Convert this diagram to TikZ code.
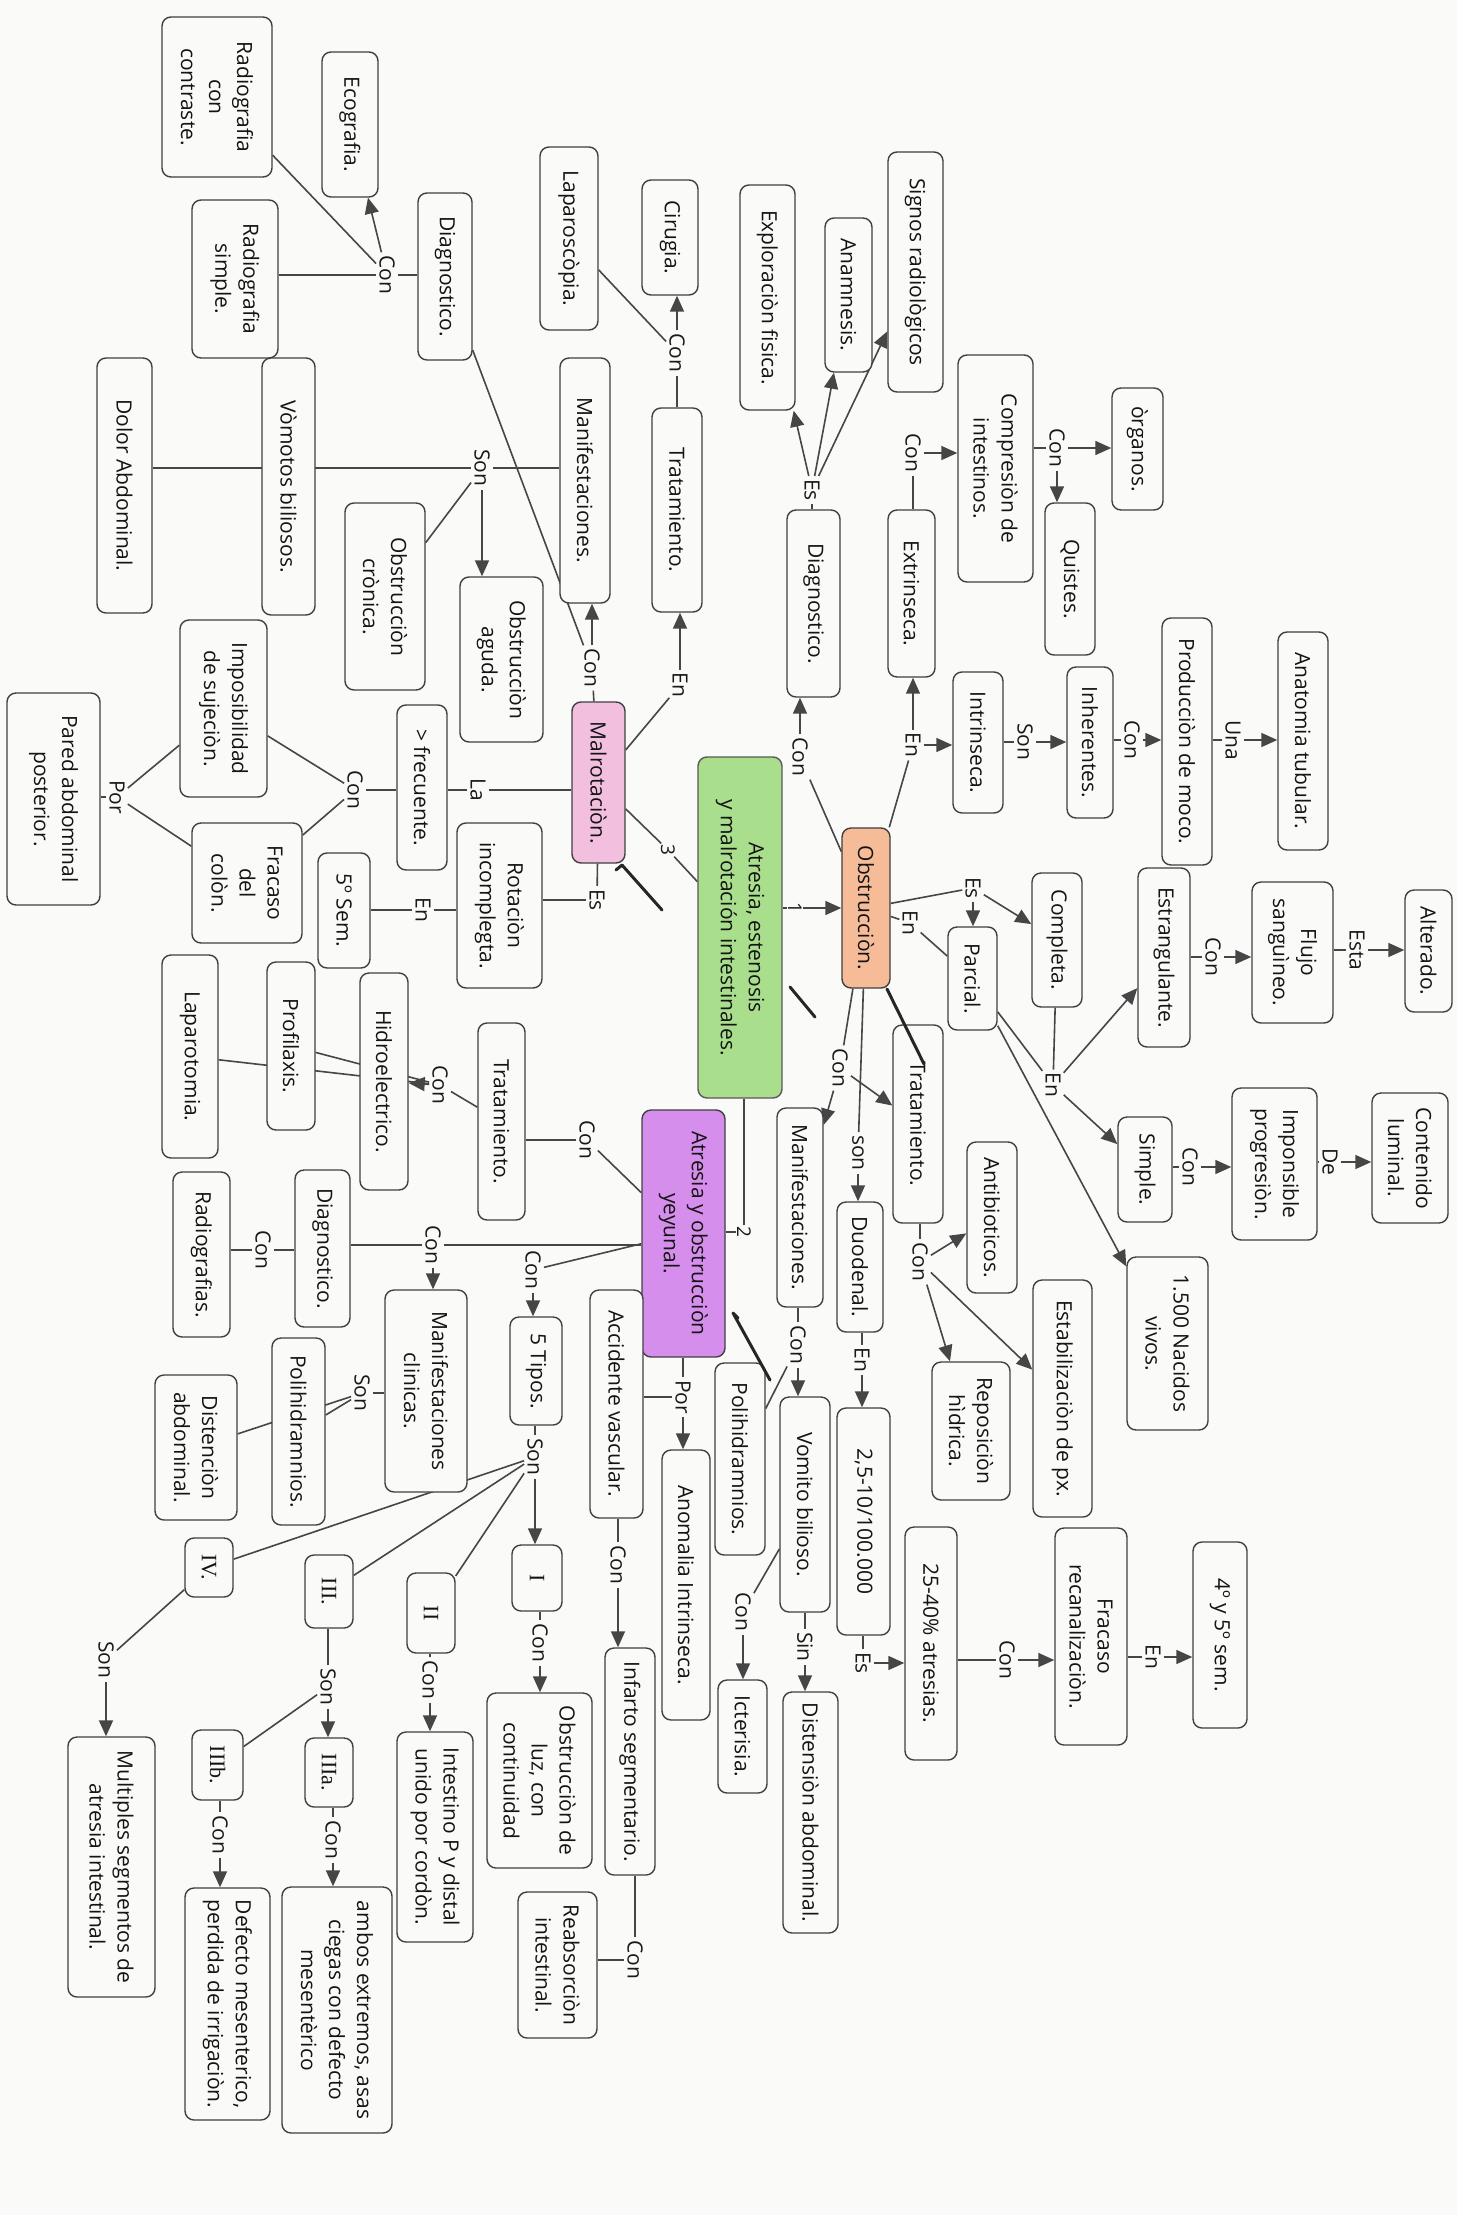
\documentclass[tikz,border=0pt]{standalone}
\usepackage{fontspec}
\setmainfont{Open Sans}
\newfontfamily\romanf{Liberation Serif}
\usetikzlibrary{arrows.meta}
\pgfdeclarelayer{back}
\pgfdeclarelayer{edges}
\pgfsetlayers{back,edges,main}
\definecolor{paper}{RGB}{250,250,249}
\definecolor{ink}{RGB}{70,70,70}
\definecolor{gfill}{RGB}{168,222,140}
\definecolor{pfill}{RGB}{242,192,222}
\definecolor{ofill}{RGB}{246,188,152}
\definecolor{vfill}{RGB}{214,142,236}
\tikzset{
  box/.style={draw=black!75, line width=1.4pt, rounded corners=9pt, rotate=-90, align=center, fill=paper, inner sep=2pt, font=\fontsize{21}{28}\selectfont, text=black!92},
  bx/.style 2 args={box, minimum width=#1pt, minimum height=#2pt},
  rom/.style={font=\romanf\fontsize{22}{28}\selectfont},
  lb/.style={rotate=-90, inner sep=3pt, font=\fontsize{21}{24}\selectfont, text=black!90},
  num/.style={rotate=-90, inner sep=1pt, fill=paper, font=\fontsize{19}{22}\selectfont, text=black!90},
  ln/.style={draw=ink, line width=1.6pt},
  ar/.style={ln, -{Triangle[length=16pt,width=14pt]}},
  pen/.style={draw=black!85, line width=3pt, line cap=round, line join=round},
}
\begin{document}
\begin{tikzpicture}[x=1pt,y=-1pt]
\begin{pgfonlayer}{back}
\fill[paper] (0,0) rectangle (1457,2215);
\end{pgfonlayer}
\useasboundingbox (0,0) rectangle (1457,2215);

% ---------- concept nodes ----------
\node[bx={160}{110}] (radcon) at (217,97) {Radiografia\\con\\contraste.};
\node[bx={145}{56}] (eco) at (350,124.5) {Ecografia.};
\node[bx={158}{86}] (radsim) at (235,279) {Radiografia\\simple.};
\node[bx={167}{54}] (diag1) at (445,276.5) {Diagnostico.};
\node[bx={255}{55}] (dolor) at (124.5,485.5) {Dolor Abdominal.};
\node[bx={257}{53}] (vomot) at (288.5,486.5) {Vòmotos biliosos.};
\node[bx={187}{80}] (cronica) at (385,596.5) {Obstrucciòn\\crònica.};
\node[bx={165}{83}] (aguda) at (501.5,659.5) {Obstrucciòn\\aguda.};
\node[bx={245}{50}] (manif1) at (585,480.5) {Manifestaciones.};
\node[bx={204}{50}] (trat1) at (677,510) {Tratamiento.};
\node[bx={115}{56}] (cirugia) at (670,237.5) {Cirugia.};
\node[bx={183}{58}] (laparos) at (569,238.5) {Laparoscòpia.};
\node[bx={161}{53}, fill=pfill] (malrot) at (598.5,782.5) {Malrotaciòn.};
\node[bx={165}{50}] (frec) at (422,787.5) {> frecuente.};
\node[bx={177}{87}] (impos) at (223.5,708.5) {Imposibilidad\\de sujeciòn.};
\node[bx={120}{110}] (fracaso) at (247,883) {Fracaso\\del\\colòn.};
\node[bx={212}{93}] (pared) at (53.5,799) {Pared abdominal\\posterior.};
\node[bx={165}{85}] (rotinc) at (499.5,905.5) {Rotaciòn\\incomplegta.};
\node[bx={115}{52}] (sem5) at (344,910.5) {5º Sem.};
\node[bx={341}{84}, fill=gfill, draw=black!65] (title) at (740,927.5) {Atresia, estenosis\\y malrotación intestinales.};
\node[bx={160}{48}, fill=ofill] (obst) at (866,908) {Obstrucciòn.};
\node[bx={187}{53}] (diag2) at (813.5,603.5) {Diagnostico.};
\node[bx={225}{55}] (explor) at (767.5,297.5) {Exploraciòn fisica.};
\node[bx={154}{47}] (anam) at (848.5,295) {Anamnesis.};
\node[bx={240}{55}] (signos) at (915.5,272) {Signos radiològicos};
\node[bx={167}{47}] (extr) at (911.5,593.5) {Extrinseca.};
\node[bx={227}{75}] (compr) at (995.5,468.5) {Compresiòn de\\intestinos.};
\node[bx={122}{51}] (organos) at (1137.5,449) {òrganos.};
\node[bx={152}{50}] (quistes) at (1070,579) {Quistes.};
\node[bx={141}{50}] (intr) at (978,742.5) {Intrinseca.};
\node[bx={151}{46}] (inher) at (1090,742.5) {Inherentes.};
\node[bx={247}{50}] (prod) at (1187,741.5) {Producciòn de moco.};
\node[bx={218}{50}] (anat) at (1303,741) {Anatomia tubular.};
\node[bx={134}{50}] (compl) at (1057,940) {Completa.};
\node[bx={103}{49}] (parcial) at (972.5,978.5) {Parcial.};
\node[bx={179}{52}] (estr) at (1164,957.5) {Estrangulante.};
\node[bx={141}{81}] (flujo) at (1292.5,952.5) {Flujo\\sanguìneo.};
\node[bx={122}{47}] (alter) at (1428.5,951) {Alterado.};
\node[bx={105}{54}] (simple) at (1145,1169.5) {Simple.};
\node[bx={152}{85}] (impro) at (1274.5,1164) {Imponsible\\progresiòn.};
\node[bx={130}{76}] (conten) at (1410,1158) {Contenido\\luminal.};
\node[bx={173}{81}] (nacidos) at (1167.5,1343.5) {1.500 Nacidos\\vivos.};
\node[bx={198}{50}] (trat2) at (918,1124) {Tratamiento.};
\node[bx={151}{50}] (antib) at (992,1217.5) {Antibioticos.};
\node[bx={237}{59}] (estab) at (1062.5,1398.5) {Estabilizaciòn de px.};
\node[bx={138}{78}] (repos) at (971,1431) {Reposiciòn\\hìdrica.};
\node[bx={199}{46}] (manif2) at (800,1207.5) {Manifestaciones.};
\node[bx={130}{46}] (duod) at (860,1267) {Duodenal.};
\node[bx={227}{53}] (incid) at (863.5,1521.5) {2,5-10/100.000};
\node[bx={233}{52}] (a2540) at (931,1643.5) {25-40\% atresias.};
\node[bx={217}{72}] (fracrec) at (1091,1636.5) {Fracaso\\recanalizaciòn.};
\node[bx={186}{54}] (s45) at (1220,1635) {4º y 5º sem.};
\node[bx={215}{50}] (vomito) at (805,1504.5) {Vomito bilioso.};
\node[bx={192}{50}] (polih1) at (740,1459) {Polihidramnios.};
\node[bx={113}{49}] (icter) at (742.5,1736.5) {Icterisia.};
\node[bx={241}{55}] (disten1) at (810.5,1812.5) {Distensiòn abdominal.};
\node[bx={247}{83}, fill=vfill] (atresia) at (683.5,1233.5) {Atresia y obstrucciòn\\yeyunal.};
\node[bx={197}{47}] (trat3) at (501.5,1121.5) {Tratamiento.};
\node[bx={217}{48}] (hidro) at (384,1081.5) {Hidroelectrico.};
\node[bx={168}{48}] (profi) at (291,1046) {Profilaxis.};
\node[bx={203}{56}] (laparot) at (190,1056.5) {Laparotomia.};
\node[bx={157}{55}] (diag3) at (322.5,1248.5) {Diagnostico.};
\node[bx={165}{57}] (radios) at (201.5,1254.5) {Radiografias.};
\node[bx={202}{82}] (manifc) at (426,1391) {Manifestaciones\\clinicas.};
\node[bx={187}{53}] (polih2) at (298.5,1431.5) {Polihidramnios.};
\node[bx={145}{82}] (disten2) at (196,1447.5) {Distenciòn\\abdominal.};
\node[bx={108}{52}] (tipos5) at (536,1371) {5 Tipos.};
\node[bx={66}{50}, rom] (nI) at (537,1578) {I};
\node[bx={80}{48}, rom] (nII) at (431,1613) {II};
\node[bx={73}{48}, rom] (nIII) at (329,1591.5) {III.};
\node[bx={59}{48}, rom] (nIV) at (209,1567.5) {IV.};
\node[bx={69}{48}, rom] (nIIIa) at (329,1772.5) {IIIa.};
\node[bx={70}{51}, rom] (nIIIb) at (217.5,1765) {IIIb.};
\node[bx={175}{105}] (obsluz) at (539.5,1780.5) {Obstrucciòn de\\luz, con\\continuidad};
\node[bx={210}{76}] (intest) at (435,1837) {Intestino P y distal\\unido por cordòn.};
\node[bx={246}{110}] (ambos) at (337,2010) {ambos extremos, asas\\ciegas con defecto\\mesentèrico};
\node[bx={232}{85}] (defecto) at (227.5,2004) {Defecto mesenterico,\\perdida de irrigaciòn.};
\node[bx={260}{87}] (multi) at (111.5,1867) {Multiples segmentos de\\atresia intestinal.};
\node[bx={228}{53}] (accid) at (616.5,1404) {Accidente vascular.};
\node[bx={270}{48}] (anom) at (686,1585) {Anomalia Intrinseca.};
\node[bx={227}{50}] (infarto) at (630,1761.5) {Infarto segmentario.};
\node[bx={146}{79}] (reabs) at (557.5,1965) {Reabsorciòn\\intestinal.};

% ---------- linking labels ----------
\node[lb] (lc1) at (387,275) {Con};
\node[lb] (lc2) at (677,353) {Con};
\node[lb] (ls1) at (482,468) {Son};
\node[lb] (lcm) at (592,668) {Con};
\node[lb] (lem) at (680,685) {En};
\node[lb] (lla) at (478,790) {La};
\node[lb] (lc3) at (355,790) {Con};
\node[lb] (lpor1) at (117,797) {Por};
\node[lb] (lesm) at (597,900) {Es};
\node[lb] (len1) at (423,910) {En};
\node[num] (l3) at (668,850) {3};
\node[num] (l1) at (795,908) {1};
\node[num] (l2) at (744,1232) {2};
\node[lb] (lco) at (800,757) {Con};
\node[lb] (les2) at (812,490) {Es};
\node[lb] (leo) at (913,745) {En};
\node[lb] (lc4) at (913,453) {Con};
\node[lb] (lc5) at (1057,448) {Con};
\node[lb] (lson2) at (1025,742) {Son};
\node[lb] (lc6) at (1132,740) {Con};
\node[lb] (luna) at (1233,740) {Una};
\node[lb] (lesO) at (973,888) {Es};
\node[lb] (lenO) at (910,923) {En};
\node[lb] (len3) at (1053,1085) {En};
\node[lb] (lc7) at (1213,957) {Con};
\node[lb] (lesta) at (1357,950) {Esta};
\node[lb] (lc8) at (1190,1167) {Con};
\node[lb] (lde) at (1330,1162) {De};
\node[lb] (lc9) at (840,1068) {Con};
\node[lb] (lson3) at (858,1153) {son};
\node[lb] (lc10) at (920,1262) {Con};
\node[lb] (lc11) at (798,1345) {Con};
\node[lb] (len4) at (862,1360) {En};
\node[lb] (les3) at (863,1663) {Es};
\node[lb] (lc12) at (1007,1660) {Con};
\node[lb] (len5) at (1153,1657) {En};
\node[lb] (lsin) at (805,1647) {Sin};
\node[lb] (lc13) at (743,1612) {Con};
\node[lb] (lc14) at (587,1140) {Con};
\node[lb] (lc15) at (440,1085) {Con};
\node[lb] (lc16) at (433,1245) {Con};
\node[lb] (lc17) at (263,1250) {Con};
\node[lb] (lson4) at (362,1393) {Son};
\node[lb] (lc18) at (533,1270) {Con};
\node[lb] (lson5) at (535,1457) {Son};
\node[lb] (lc19) at (540,1643) {Con};
\node[lb] (lc20) at (430,1680) {Con};
\node[lb] (lson6) at (328,1687) {Son};
\node[lb] (lc21) at (333,1840) {Con};
\node[lb] (lc22) at (220,1835) {Con};
\node[lb] (lson7) at (106,1660) {Son};
\node[lb] (lpor2) at (683,1397) {Por};
\node[lb] (lc23) at (618,1565) {Con};
\node[lb] (lc24) at (635,1960) {Con};

% ---------- connectors ----------
\begin{pgfonlayer}{edges}
% Malrotacion branch
\draw[ln] (lc1) -- (lc1 -| diag1.south);
\draw[ln] (lc1) -- (lc1 -| radsim.north);
\draw[ar] (lc1) -- (eco);
\draw[ln] (lc1) -- (radcon);
\draw[ln] (lc2) -- (lc2 |- trat1.west);
\draw[ar] (lc2) -- (lc2 |- cirugia.east);
\draw[ln] (lc2) -- (laparos);
\draw[ln] (ls1) -- (ls1 -| manif1.south);
\draw[ln] (ls1) -- (ls1 -| dolor.north);
\draw[ar] (ls1) -- (ls1 |- aguda.west);
\draw[ln] (ls1) -- (cronica);
\draw[ln] (malrot) -- (lcm);
\draw[ar] (lcm) -- (lcm |- manif1.east);
\draw[ln] (lcm) -- (diag1);
\draw[ln] (malrot) -- (lem);
\draw[ar] (lem) -- (lem |- trat1.east);
\draw[ln] (lla) -- (lla -| malrot.south);
\draw[ln] (lla) -- (lla -| frec.north);
\draw[ln] (lc3) -- (lc3 -| frec.south);
\draw[ln] (lc3) -- (impos);
\draw[ln] (lc3) -- (fracaso);
\draw[ln] (lpor1) -- (impos);
\draw[ln] (lpor1) -- (fracaso);
\draw[ln] (lpor1) -- (lpor1 -| pared.north);
\draw[ln] (malrot) -- (lesm);
\draw[ln] (lesm) -- (lesm -| rotinc.north);
\draw[ln] (len1) -- (len1 -| rotinc.south);
\draw[ln] (len1) -- (len1 -| sem5.north);
\draw[ln] (malrot) -- (l3);
\draw[ln] (l3) -- (title);
% title
\draw[ar] (l1 -| title.north) -- (l1 -| obst.south);
\draw[ln] (l2) -- (l2 |- title.east);
\draw[ln] (l2) -- (l2 -| atresia.north);
% Obstruccion branch
\draw[ln] (obst) -- (lco);
\draw[ar] (lco) -- (lco |- diag2.east);
\draw[ln] (les2) -- (les2 |- diag2.west);
\draw[ar] (les2) -- (explor);
\draw[ar] (les2) -- (anam);
\draw[ar] (les2) -- (signos);
\draw[ln] (obst) -- (leo);
\draw[ar] (leo) -- (leo |- extr.east);
\draw[ar] (leo) -- (leo -| intr.south);
\draw[ln] (lc4) -- (lc4 |- extr.west);
\draw[ar] (lc4) -- (lc4 -| compr.south);
\draw[ln] (lc5) -- (lc5 -| compr.north);
\draw[ar] (lc5) -- (lc5 -| organos.south);
\draw[ar] (lc5) -- (lc5 |- quistes.west);
\draw[ln] (lson2) -- (lson2 -| intr.north);
\draw[ar] (lson2) -- (lson2 -| inher.south);
\draw[ln] (lc6) -- (lc6 -| inher.north);
\draw[ar] (lc6) -- (lc6 -| prod.south);
\draw[ln] (luna) -- (luna -| prod.north);
\draw[ar] (luna) -- (luna -| anat.south);
\draw[ln] (obst) -- (lesO);
\draw[ar] (lesO) -- (compl);
\draw[ar] (lesO) -- (lesO |- parcial.west);
\draw[ln] (obst) -- (lenO);
\draw[ln] (lenO) -- (parcial);
\draw[ar] (parcial) -- (nacidos);
\draw[ln] (compl) -- (len3);
\draw[ln] (parcial) -- (len3);
\draw[ar] (len3) -- (estr);
\draw[ar] (len3) -- (simple);
\draw[ln] (lc7) -- (lc7 -| estr.north);
\draw[ar] (lc7) -- (lc7 -| flujo.south);
\draw[ln] (lesta) -- (lesta -| flujo.north);
\draw[ar] (lesta) -- (lesta -| alter.south);
\draw[ln] (lc8) -- (lc8 -| simple.north);
\draw[ar] (lc8) -- (lc8 -| impro.south);
\draw[ln] (lde) -- (lde -| impro.north);
\draw[ar] (lde) -- (lde -| conten.south);
\draw[ln] (obst) -- (lc9);
\draw[ar] (lc9) -- (manif2);
\draw[ar] (lc9) -- (trat2);
\draw[ln] (obst) -- (lson3);
\draw[ar] (lson3) -- (lson3 |- duod.west);
\draw[ln] (lc10) -- (lc10 |- trat2.east);
\draw[ar] (lc10) -- (antib);
\draw[ar] (lc10) -- (estab);
\draw[ar] (lc10) -- (repos);
\draw[ln] (lc11) -- (lc11 |- manif2.east);
\draw[ar] (lc11) -- (lc11 |- vomito.west);
\draw[ln] (lc11) -- (polih1);
\draw[ln] (len4) -- (len4 |- duod.east);
\draw[ar] (len4) -- (len4 |- incid.west);
\draw[ln] (les3) -- (les3 |- incid.east);
\draw[ar] (les3) -- (les3 -| a2540.south);
\draw[ln] (lc12) -- (lc12 -| a2540.north);
\draw[ar] (lc12) -- (lc12 -| fracrec.south);
\draw[ln] (len5) -- (len5 -| fracrec.north);
\draw[ar] (len5) -- (len5 -| s45.south);
\draw[ln] (lsin) -- (lsin |- vomito.east);
\draw[ar] (lsin) -- (lsin |- disten1.west);
\draw[ln] (vomito) -- (lc13);
\draw[ar] (lc13) -- (lc13 |- icter.west);
% Atresia y obstruccion yeyunal branch
\draw[ln] (atresia) -- (lc14);
\draw[ln] (lc14) -- (lc14 -| trat3.north);
\draw[ln] (lc15) -- (trat3);
\draw[ar] (lc15) -- (hidro);
\draw[ln] (lc15) -- (profi);
\draw[ln] (lc15) -- (laparot);
\draw[ln] (lc16) -- (lc16 -| atresia.south);
\draw[ln] (lc16) -- (lc16 -| diag3.north);
\draw[ar] (lc16) -- (lc16 |- manifc.west);
\draw[ln] (lc17) -- (lc17 -| diag3.south);
\draw[ln] (lc17) -- (lc17 -| radios.north);
\draw[ln] (lson4) -- (lson4 -| manifc.south);
\draw[ln] (lson4) -- (polih2);
\draw[ln] (lson4) -- (disten2);
\draw[ln] (atresia) -- (lc18);
\draw[ar] (lc18) -- (lc18 |- tipos5.west);
\draw[ln] (lson5) -- (lson5 |- tipos5.east);
\draw[ar] (lson5) -- (lson5 |- nI.west);
\draw[ln] (lson5) -- (nII);
\draw[ln] (lson5) -- (nIII);
\draw[ln] (lson5) -- (nIV);
\draw[ln] (lc19) -- (lc19 |- nI.east);
\draw[ar] (lc19) -- (lc19 |- obsluz.west);
\draw[ln] (lc20) -- (lc20 |- nII.east);
\draw[ar] (lc20) -- (lc20 |- intest.west);
\draw[ln] (lson6) -- (lson6 |- nIII.east);
\draw[ar] (lson6) -- (lson6 |- nIIIa.west);
\draw[ln] (lson6) -- (nIIIb);
\draw[ln] (lc21) -- (lc21 |- nIIIa.east);
\draw[ar] (lc21) -- (lc21 |- ambos.west);
\draw[ln] (lc22) -- (lc22 |- nIIIb.east);
\draw[ar] (lc22) -- (lc22 |- defecto.west);
\draw[ln] (nIV) -- (lson7);
\draw[ar] (lson7) -- (lson7 |- multi.west);
\draw[ln] (lpor2) -- (lpor2 |- atresia.east);
\draw[ar] (lpor2) -- (lpor2 |- anom.west);
\draw[ln] (lpor2) -- (lpor2 -| accid.north);
\draw[ln] (lc23) -- (lc23 |- accid.east);
\draw[ar] (lc23) -- (lc23 |- infarto.west);
\draw[ln] (lc24) -- (lc24 |- infarto.east);
\draw[ln] (lc24) -- (lc24 -| reabs.north);
\end{pgfonlayer}

% ---------- hand-drawn pen strokes ----------
\draw[pen] (616,870) -- (622,865) -- (662,910);
\draw[pen] (790,987) -- (815,1017);
\draw[pen] (738,1318) -- (733,1313) -- (770,1380);
\draw[pen] (887,989) -- (924,1064);
\end{tikzpicture}
\end{document}
